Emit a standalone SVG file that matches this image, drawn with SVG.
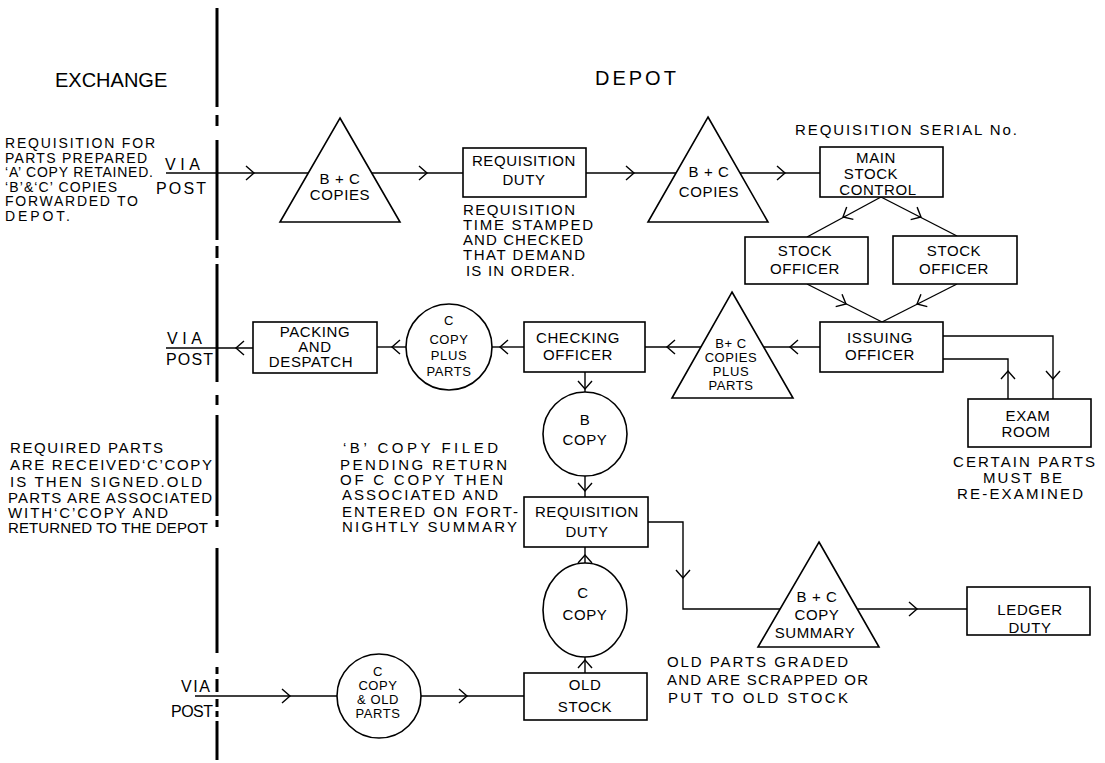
<svg xmlns="http://www.w3.org/2000/svg" xmlns:xlink="http://www.w3.org/1999/xlink" width="1105" height="763" viewBox="0 0 1105 763">
<style>
text{font-family:"Liberation Sans",Arial,sans-serif;fill:#000}
.t{font-size:15px;letter-spacing:.6px;text-anchor:middle}
.s{font-size:13px;letter-spacing:.6px;text-anchor:middle}
.d{font-size:15px}
.e{font-size:14px}
.h{font-size:20px}
.v{font-size:16px}
.n rect,.n polygon,.n circle,.n ellipse{fill:#fff;stroke:#000;stroke-width:1.6}
.c path,.c line{fill:none;stroke:#000;stroke-width:1.4}
.div{stroke:#000;stroke-width:3}
</style>
<defs>
<path id="ch" d="M-8,-7 L0,0 L-8,7" fill="none" stroke="#000" stroke-width="1.4"/>
</defs>
<rect width="1105" height="763" fill="#fff"/>

<!-- divider -->
<g id="divider" class="div">
<line x1="217" y1="8" x2="217" y2="107"/>
<line x1="217" y1="115" x2="217" y2="126"/>
<line x1="217" y1="140" x2="217" y2="240"/>
<line x1="217" y1="246" x2="217" y2="258"/>
<line x1="217" y1="264" x2="217" y2="382"/>
<line x1="217" y1="395" x2="217" y2="405"/>
<line x1="217" y1="415" x2="217" y2="516"/>
<line x1="217" y1="520" x2="217" y2="527"/>
<line x1="217" y1="548" x2="217" y2="653"/>
<line x1="217" y1="667" x2="217" y2="674"/>
<line x1="217" y1="679" x2="217" y2="692"/>
<line x1="217" y1="699" x2="217" y2="707"/>
<line x1="217" y1="711" x2="217" y2="717"/>
<line x1="217" y1="721" x2="217" y2="760"/>
</g>

<!-- headings and notes -->
<g id="labels">
<text class="h" x="55" y="87">EXCHANGE</text>
<text class="h" x="595" y="85" letter-spacing="3">DEPOT</text>

<text class="e" x="5" y="148" textLength="150">REQUISITION FOR</text>
<text class="e" x="5" y="162.5" textLength="142">PARTS PREPARED</text>
<text class="e" x="5" y="177" textLength="148">‘A’ COPY RETAINED.</text>
<text class="e" x="5" y="191.5" textLength="112">‘B’&amp;‘C’ COPIES</text>
<text class="e" x="5" y="206" textLength="133">FORWARDED TO</text>
<text class="e" x="5" y="220.5" textLength="65">DEPOT.</text>

<text class="v" x="165" y="170" textLength="35">VIA</text>
<text class="v" x="156" y="194" textLength="50">POST</text>
<text class="v" x="167" y="344" textLength="35">VIA</text>
<text class="v" x="166" y="365" textLength="47">POST</text>
<text class="v" x="181" y="692" textLength="29">VIA</text>
<text class="v" x="171" y="717" textLength="42">POST</text>

<text class="d" x="463" y="215" textLength="112">REQUISITION</text>
<text class="d" x="463" y="230" textLength="130">TIME STAMPED</text>
<text class="d" x="463" y="245" textLength="120">AND CHECKED</text>
<text class="d" x="463" y="260" textLength="122">THAT DEMAND</text>
<text class="d" x="466" y="276" textLength="109">IS IN ORDER.</text>

<text class="d" x="795" y="135" textLength="222">REQUISITION SERIAL No.</text>

<text class="d" x="953" y="467" textLength="142">CERTAIN PARTS</text>
<text class="d" x="983" y="483" textLength="79">MUST BE</text>
<text class="d" x="957" y="499" textLength="126">RE-EXAMINED</text>

<text class="d" x="10" y="453" textLength="153">REQUIRED  PARTS</text>
<text class="d" x="10" y="470" textLength="202">ARE  RECEIVED‘C’COPY</text>
<text class="d" x="10" y="487" textLength="192">IS THEN  SIGNED.OLD</text>
<text class="d" x="8" y="503" textLength="204">PARTS ARE ASSOCIATED</text>
<text class="d" x="8" y="518" textLength="160">WITH‘C’COPY AND</text>
<text class="d" x="8" y="533" textLength="200">RETURNED TO THE DEPOT</text>

<text class="d" x="343" y="453" textLength="155">‘B’ COPY  FILED</text>
<text class="d" x="340" y="470" textLength="167">PENDING  RETURN</text>
<text class="d" x="340" y="485" textLength="163">OF C COPY THEN</text>
<text class="d" x="342" y="500" textLength="156">ASSOCIATED  AND</text>
<text class="d" x="342" y="517" textLength="176">ENTERED ON FORT-</text>
<text class="d" x="342" y="532" textLength="175">NIGHTLY  SUMMARY</text>

<text class="d" x="667" y="667" textLength="181">OLD  PARTS GRADED</text>
<text class="d" x="667" y="685" textLength="201">AND ARE SCRAPPED OR</text>
<text class="d" x="668" y="703" textLength="180">PUT  TO OLD  STOCK</text>
</g>

<!-- connectors -->
<g id="connectors" class="c">
<path d="M166,173 H308"/>
<use xlink:href="#ch" transform="translate(254,173)"/>
<path d="M372,173 H463"/>
<use xlink:href="#ch" transform="translate(427,173)"/>
<path d="M586,173 H676"/>
<use xlink:href="#ch" transform="translate(634,173)"/>
<path d="M740,173 H820"/>
<use xlink:href="#ch" transform="translate(785,173)"/>

<path d="M881,197 L807,237"/>
<use xlink:href="#ch" transform="translate(843,217) rotate(151.6)"/>
<path d="M881,197 L957,236"/>
<use xlink:href="#ch" transform="translate(921,217) rotate(27.2)"/>
<path d="M807,284 L882,322"/>
<use xlink:href="#ch" transform="translate(846,304) rotate(26.9)"/>
<path d="M957,284 L882,322"/>
<use xlink:href="#ch" transform="translate(917,304) rotate(153.1)"/>

<path d="M820,347 H764"/>
<use xlink:href="#ch" transform="translate(790,347) rotate(180)"/>
<path d="M701,347 H645"/>
<use xlink:href="#ch" transform="translate(667,347) rotate(180)"/>
<path d="M524,347 H492"/>
<use xlink:href="#ch" transform="translate(500,347) rotate(180)"/>
<path d="M406,347 H377"/>
<use xlink:href="#ch" transform="translate(392,347) rotate(180)"/>
<path d="M253,348 H166"/>
<use xlink:href="#ch" transform="translate(236,348) rotate(180)"/>

<path d="M943,336 H1053 V399"/>
<use xlink:href="#ch" transform="translate(1053,379) rotate(90)"/>
<path d="M1008,399 V359 H943"/>
<use xlink:href="#ch" transform="translate(1008,371) rotate(-90)"/>

<path d="M585,372 V392"/>
<use xlink:href="#ch" transform="translate(585,389) rotate(90)"/>
<path d="M585,476 V497"/>
<use xlink:href="#ch" transform="translate(585,491) rotate(90)"/>
<path d="M585,563 V547"/>
<use xlink:href="#ch" transform="translate(585,555) rotate(-90)"/>
<path d="M585,673 V657"/>
<use xlink:href="#ch" transform="translate(585,660) rotate(-90)"/>

<path d="M648,522 H683 V609 H780"/>
<use xlink:href="#ch" transform="translate(683,578) rotate(90)"/>
<path d="M858,609 H967"/>
<use xlink:href="#ch" transform="translate(917,609)"/>

<path d="M195,696 H337"/>
<use xlink:href="#ch" transform="translate(290,696)"/>
<path d="M421,696 H524"/>
<use xlink:href="#ch" transform="translate(467,696)"/>
</g>

<!-- nodes -->
<g id="t1" class="n">
<polygon points="340,118 400,222 280,222"/>
<text class="t" x="340" y="184">B + C</text>
<text class="t" x="340" y="200">COPIES</text>
</g>
<g id="reqDuty1" class="n">
<rect x="463" y="148" width="123" height="49"/>
<text class="t" x="524" y="166">REQUISITION</text>
<text class="t" x="524" y="185">DUTY</text>
</g>
<g id="t2" class="n">
<polygon points="708,117 768,222 648,222"/>
<text class="t" x="709" y="177">B + C</text>
<text class="t" x="709" y="197">COPIES</text>
</g>
<g id="mainStock" class="n">
<rect x="820" y="147" width="123" height="50"/>
<text class="t" x="876" y="163">MAIN</text>
<text class="t" x="871" y="179">STOCK</text>
<text class="t" x="878" y="195">CONTROL</text>
</g>
<g id="stockOfficer1" class="n">
<rect x="745" y="237" width="123" height="47"/>
<text class="t" x="805" y="256">STOCK</text>
<text class="t" x="805" y="274">OFFICER</text>
</g>
<g id="stockOfficer2" class="n">
<rect x="893" y="236" width="124" height="48"/>
<text class="t" x="954" y="256">STOCK</text>
<text class="t" x="954" y="274">OFFICER</text>
</g>
<g id="issuing" class="n">
<rect x="820" y="322" width="123" height="50"/>
<text class="t" x="880" y="343">ISSUING</text>
<text class="t" x="880" y="360">OFFICER</text>
</g>
<g id="exam" class="n">
<rect x="968" y="399" width="123" height="48"/>
<text class="t" x="1028" y="421">EXAM</text>
<text class="t" x="1026" y="437">ROOM</text>
</g>
<g id="t3" class="n">
<polygon points="732,292 793,398 672,398"/>
<text class="s" x="731" y="348">B+ C</text>
<text class="s" x="731" y="362">COPIES</text>
<text class="s" x="731" y="376">PLUS</text>
<text class="s" x="731" y="390">PARTS</text>
</g>
<g id="checking" class="n">
<rect x="524" y="322" width="121" height="50"/>
<text class="t" x="578" y="343">CHECKING</text>
<text class="t" x="578" y="360">OFFICER</text>
</g>
<g id="cCopyPlusParts" class="n">
<circle cx="449" cy="347" r="43"/>
<text class="s" x="449" y="325">C</text>
<text class="s" x="449" y="344">COPY</text>
<text class="s" x="449" y="360">PLUS</text>
<text class="s" x="449" y="376">PARTS</text>
</g>
<g id="packing" class="n">
<rect x="253" y="322" width="124" height="51"/>
<text class="t" x="315" y="337">PACKING</text>
<text class="t" x="315" y="352">AND</text>
<text class="t" x="311" y="367">DESPATCH</text>
</g>
<g id="bCopy" class="n">
<circle cx="585" cy="434" r="42"/>
<text class="t" x="585" y="425">B</text>
<text class="t" x="585" y="445">COPY</text>
</g>
<g id="reqDuty2" class="n">
<rect x="524" y="497" width="124" height="50"/>
<text class="t" x="587" y="517">REQUISITION</text>
<text class="t" x="587" y="537">DUTY</text>
</g>
<g id="cCopy" class="n">
<ellipse cx="585" cy="610" rx="42" ry="47"/>
<text class="t" x="583" y="598">C</text>
<text class="t" x="585" y="620">COPY</text>
</g>
<g id="oldStock" class="n">
<rect x="524" y="673" width="123" height="47"/>
<text class="t" x="585" y="690">OLD</text>
<text class="t" x="585" y="712">STOCK</text>
</g>
<g id="cCopyOldParts" class="n">
<circle cx="379" cy="696" r="42"/>
<text class="s" x="378" y="676">C</text>
<text class="s" x="378" y="690">COPY</text>
<text class="s" x="378" y="704">&amp; OLD</text>
<text class="s" x="378" y="718">PARTS</text>
</g>
<g id="t4" class="n">
<polygon points="819,542 879,647 758,647"/>
<text class="t" x="817" y="602">B + C</text>
<text class="t" x="817" y="620">COPY</text>
<text class="t" x="815" y="638">SUMMARY</text>
</g>
<g id="ledger" class="n">
<rect x="967" y="587" width="123" height="48"/>
<text class="t" x="1030" y="615">LEDGER</text>
<text class="t" x="1030" y="633">DUTY</text>
</g>
</svg>
